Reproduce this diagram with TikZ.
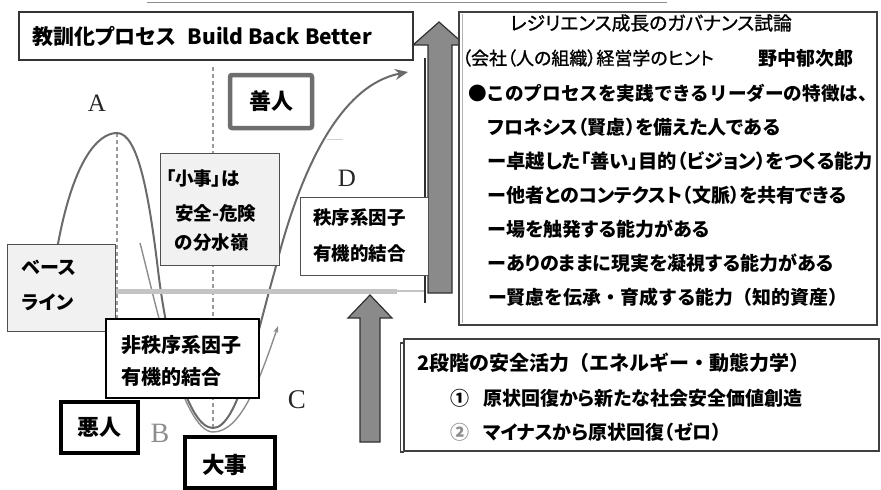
\documentclass[tikz,border=0pt]{standalone}
\usepackage{fontspec}
\setmainfont{Liberation Serif}
\newfontfamily\jp{Noto Sans CJK JP}[RawFeature=+palt]
\newfontfamily\jpf{Noto Sans CJK JP}
\newfontfamily\jpm{Noto Sans CJK JP}[RawFeature=+palt,FakeBold=1.2]
\usetikzlibrary{arrows.meta}
\definecolor{curvegray}{HTML}{6A6A6A}
\definecolor{lightcurve}{HTML}{8C8C8C}
\definecolor{boxline}{HTML}{505050}
\definecolor{panel}{HTML}{F1F1F1}
\definecolor{arrowfill}{HTML}{8A8A8A}
\definecolor{arrowline}{HTML}{303030}
\definecolor{baseln}{HTML}{C4C4C4}
\definecolor{zenline}{HTML}{6E6E6E}
\definecolor{dashgray}{HTML}{9A9A9A}
\begin{document}
\begin{tikzpicture}[x=1pt,y=-1pt,
  every node/.style={inner sep=0pt,outer sep=0pt},
  frame/.style={draw=boxline,line width=1pt,fill=white,anchor=north west},
  panelbox/.style={frame,fill=panel},
  heavybox/.style={draw=black,line width=#1,fill=white,anchor=north west},
  jb/.style={font=\jp\bfseries\fontsize{#1}{#1}\selectfont,anchor=west},
  jbf/.style={font=\jpf\bfseries\fontsize{#1}{#1}\selectfont,anchor=west},
  jm/.style={font=\jpm\fontsize{#1}{#1}\selectfont,anchor=west},
  jc/.style={font=\jp\bfseries\fontsize{#1}{#1}\selectfont},
  letter/.style={font=\fontsize{#1}{#1}\selectfont,text=black!85},
  guide/.style={dashgray,line width=1.5pt,dash pattern=on 4pt off 3pt},
  bigarrow/.style={draw=arrowline,fill=arrowfill,line width=1.2pt}]
\useasboundingbox (0,0) rectangle (881,490);

% faint top line and artefact
\draw[black!45,line width=1pt] (147,2) -- (667,2);
\draw[black!18,line width=1pt] (327,139) -- (343,139);

% guide lines
\draw[guide] (117,133) -- (117,330);
\draw[guide] (213,67) -- (213,428);

% curves
\draw[curvegray,line width=2pt,-{Stealth[length=13pt,width=11pt]}]
  (56,255) .. controls (72,160) and (98,133) .. (117,133)
  .. controls (138,133) and (149,195) .. (158,270)
  .. controls (167,345) and (188,428) .. (213,428)
  .. controls (238,428) and (255,340) .. (275,270)
  .. controls (300,170) and (340,85) .. (408,72);
\draw[lightcurve,line width=1.4pt,-{Stealth[length=7pt,width=5pt]}]
  (140,243) .. controls (155,300) and (182,432) .. (213,432)
  .. controls (240,432) and (258,385) .. (278,326);

% baseline
\draw[baseln,line width=5pt] (115,291) -- (397,291);
\draw[baseln,line width=2.5pt] (397,291) -- (425,291);

% big arrows
\draw[arrowline,line width=2pt] (425,58) -- (425,303);
\draw[bigarrow] (428,293) -- (428,45) -- (413,45) -- (439,22) -- (465,45) -- (452,45) -- (452,293) -- cycle;
\draw[bigarrow] (360,442) -- (360,318) -- (348,318) -- (370,295) -- (392,318) -- (380,318) -- (380,442) -- cycle;

% boxes
\node[frame,draw=black!80,line width=1.3pt,minimum width=394pt,minimum height=48pt] (title) at (19,12) {};
\node[draw=zenline,line width=4.5pt,rounded corners=2pt,fill=white,anchor=north west,minimum width=82pt,minimum height=53pt] (zen) at (230,75) {};
\node[panelbox,minimum width=108pt,minimum height=87pt] (base) at (7,244) {};
\node[panelbox,minimum width=119pt,minimum height=112pt] (shouji) at (160,153) {};
\node[frame,minimum width=128pt,minimum height=78pt] (chitsu) at (300,197) {};
\node[heavybox=2.5pt,minimum width=153pt,minimum height=79pt] (hichitsu) at (106,319) {};
\node[heavybox=3.5pt,minimum width=77pt,minimum height=51pt] (aku) at (61,402) {};
\node[heavybox=4pt,minimum width=90pt,minimum height=51pt] (daiji) at (185,437) {};
\node[frame,draw=black!75,line width=1.2pt,minimum width=418pt,minimum height=313pt] (right) at (459,12) {};
\draw[black!30,line width=0.8pt] (462.5,14) -- (462.5,323);
\node[frame,draw=black!75,line width=1.2pt,minimum width=475pt,minimum height=112pt] (nidan) at (404,339) {};
\draw[black!75,line width=1.2pt] (404,343) -- (400.5,343) -- (400.5,452) -- (404,452);

% letters
\node[letter=25] (la) at (97,103) {A};
\node[letter=28,text=black!45] (lb) at (160,433) {B};
\node[letter=27] (lc) at (297,400) {C};
\node[letter=25] (ld) at (347,178) {D};

% texts left
\node[jb=21] (tt) at (32,36) {教訓化プロセス\hspace{12pt}Build Back Better};
\node[jc=22] (tzen) at (zen.center) {善人};
\node[jb=19] (tb1) at (22,268) {ベース};
\node[jb=19] (tb2) at (22,302) {ライン};
\node[jb=18.5] (ts1) at (166,178) {「小事」は};
\node[jb=18.5] (ts2) at (175,213) {安全-危険};
\node[jb=18.5] (ts3) at (175,243) {の分水嶺};
\node[jb=18.5] (tc1) at (313,218) {秩序系因子};
\node[jb=18.5] (tc2) at (313,253) {有機的結合};
\node[jb=20] (th1) at (121,345) {非秩序系因子};
\node[jb=20] (th2) at (121,377) {有機的結合};
\node[jc=22] (taku) at (aku.center) {悪人};
\node[jb=22.5] (tdai) at (202,465) {大事};

% texts right
\node[jm=18.8] (r1) at (510,23) {レジリエンス成長のガバナンス試論};
\node[jm=18] (r2a) at (462,58) {（会社（人の組織）経営学のヒント};
\node[jb=19] (r2b) at (758,58) {野中郁次郎};
\node[jbf=18.6] (r3) at (468,93) {●このプロセスを実践できるリーダーの特徴は、};
\node[jb=19] (r4) at (488,127) {フロネシス（賢慮）を備えた人である};
\node[jb=19.3] (r5) at (488,161) {ー卓越した「善い」目的（ビジョン）をつくる能力};
\node[jb=19] (r6) at (488,195) {ー他者とのコンテクスト（文脈）を共有できる};
\node[jb=19] (r7) at (488,229) {ー場を触発する能力がある};
\node[jb=19] (r8) at (488,263) {ーありのままに現実を凝視する能力がある};
\node[jbf=18.9] (r9) at (488,297) {ー賢慮を伝承・育成する能力（知的資産）};

\node[jbf=20] (n1) at (417,363) {2段階の安全活力（エネルギー・動態力学）};
\node[jb=19] (n2a) at (450,398) {①};
\node[jb=19] (n2b) at (483,398) {原状回復から新たな社会安全価値創造};
\node[jb=19,text=black!45] (n3a) at (450,432) {②};
\node[jb=19] (n3b) at (483,432) {マイナスから原状回復（ゼロ）};
\end{tikzpicture}
\end{document}
